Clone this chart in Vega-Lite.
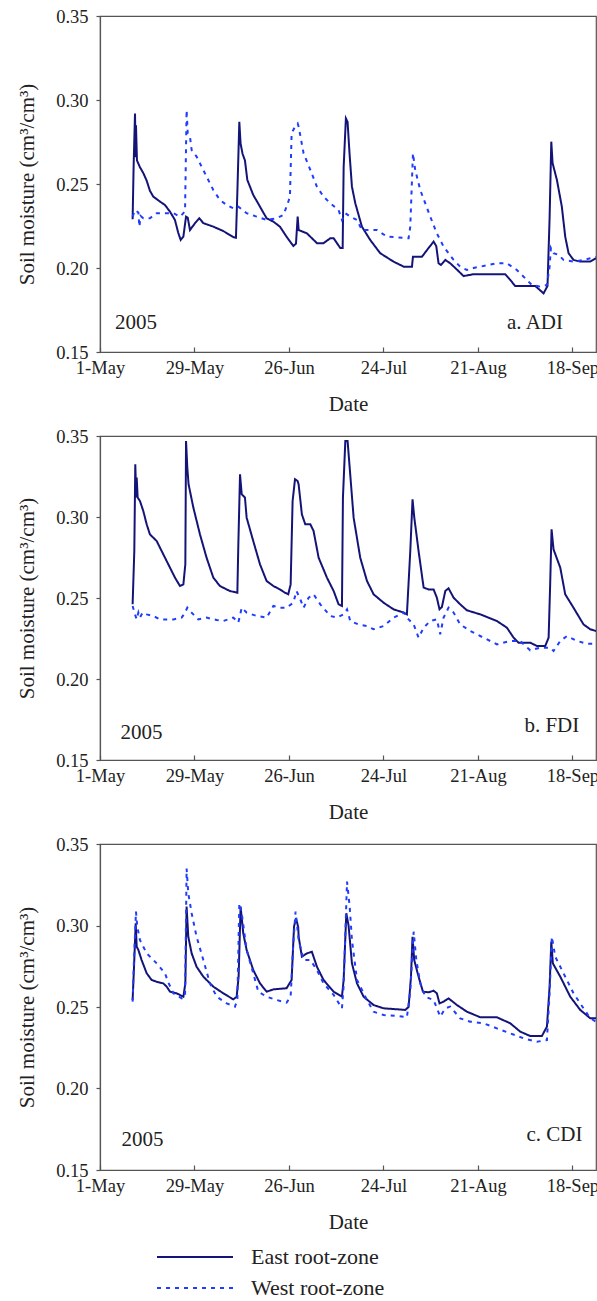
{
  "$schema": "https://vega.github.io/schema/vega-lite/v6.json",
  "padding": {"left": 16, "top": 6, "right": 0, "bottom": 0},
  "background": "white",
  "spacing": 10,
  "datasets": {
    "series": [
      {"panel":"a","zone":"East root-zone","date":"2005-05-10T16:00","moisture":0.229},
      {"panel":"a","zone":"East root-zone","date":"2005-05-10T23:00","moisture":0.260},
      {"panel":"a","zone":"East root-zone","date":"2005-05-11T09:00","moisture":0.292},
      {"panel":"a","zone":"East root-zone","date":"2005-05-11T14:00","moisture":0.266},
      {"panel":"a","zone":"East root-zone","date":"2005-05-11T16:00","moisture":0.285},
      {"panel":"a","zone":"East root-zone","date":"2005-05-11T23:00","moisture":0.264},
      {"panel":"a","zone":"East root-zone","date":"2005-05-12T20:00","moisture":0.260},
      {"panel":"a","zone":"East root-zone","date":"2005-05-13T20:00","moisture":0.2565},
      {"panel":"a","zone":"East root-zone","date":"2005-05-14T20:00","moisture":0.252},
      {"panel":"a","zone":"East root-zone","date":"2005-05-15T19:00","moisture":0.246},
      {"panel":"a","zone":"East root-zone","date":"2005-05-16T19:00","moisture":0.2425},
      {"panel":"a","zone":"East root-zone","date":"2005-05-18T19:00","moisture":0.2395},
      {"panel":"a","zone":"East root-zone","date":"2005-05-20T06:00","moisture":0.2375},
      {"panel":"a","zone":"East root-zone","date":"2005-05-21T18:00","moisture":0.2335},
      {"panel":"a","zone":"East root-zone","date":"2005-05-23T05:00","moisture":0.2286},
      {"panel":"a","zone":"East root-zone","date":"2005-05-24T05:00","moisture":0.2208},
      {"panel":"a","zone":"East root-zone","date":"2005-05-24T22:00","moisture":0.2167},
      {"panel":"a","zone":"East root-zone","date":"2005-05-25T17:00","moisture":0.2187},
      {"panel":"a","zone":"East root-zone","date":"2005-05-26T12:00","moisture":0.2306},
      {"panel":"a","zone":"East root-zone","date":"2005-05-27T00:00","moisture":0.230},
      {"panel":"a","zone":"East root-zone","date":"2005-05-27T16:00","moisture":0.2226},
      {"panel":"a","zone":"East root-zone","date":"2005-05-29T04:00","moisture":0.2267},
      {"panel":"a","zone":"East root-zone","date":"2005-05-30T10:00","moisture":0.2296},
      {"panel":"a","zone":"East root-zone","date":"2005-05-31T15:00","moisture":0.2267},
      {"panel":"a","zone":"East root-zone","date":"2005-06-03T14:00","moisture":0.2246},
      {"panel":"a","zone":"East root-zone","date":"2005-06-06T13:00","moisture":0.222},
      {"panel":"a","zone":"East root-zone","date":"2005-06-09T12:00","moisture":0.2184},
      {"panel":"a","zone":"East root-zone","date":"2005-06-10T07:00","moisture":0.218},
      {"panel":"a","zone":"East root-zone","date":"2005-06-10T17:00","moisture":0.245},
      {"panel":"a","zone":"East root-zone","date":"2005-06-11T07:00","moisture":0.287},
      {"panel":"a","zone":"East root-zone","date":"2005-06-11T16:00","moisture":0.274},
      {"panel":"a","zone":"East root-zone","date":"2005-06-12T06:00","moisture":0.268},
      {"panel":"a","zone":"East root-zone","date":"2005-06-12T23:00","moisture":0.264},
      {"panel":"a","zone":"East root-zone","date":"2005-06-13T16:00","moisture":0.2524},
      {"panel":"a","zone":"East root-zone","date":"2005-06-15T10:00","moisture":0.2435},
      {"panel":"a","zone":"East root-zone","date":"2005-06-17T10:00","moisture":0.2365},
      {"panel":"a","zone":"East root-zone","date":"2005-06-19T09:00","moisture":0.2296},
      {"panel":"a","zone":"East root-zone","date":"2005-06-21T09:00","moisture":0.2276},
      {"panel":"a","zone":"East root-zone","date":"2005-06-23T08:00","moisture":0.2246},
      {"panel":"a","zone":"East root-zone","date":"2005-06-25T07:00","moisture":0.2186},
      {"panel":"a","zone":"East root-zone","date":"2005-06-27T07:00","moisture":0.2131},
      {"panel":"a","zone":"East root-zone","date":"2005-06-28T02:00","moisture":0.2145},
      {"panel":"a","zone":"East root-zone","date":"2005-06-28T14:00","moisture":0.2306},
      {"panel":"a","zone":"East root-zone","date":"2005-06-28T21:00","moisture":0.2226},
      {"panel":"a","zone":"East root-zone","date":"2005-07-01T08:00","moisture":0.2206},
      {"panel":"a","zone":"East root-zone","date":"2005-07-04T07:00","moisture":0.2148},
      {"panel":"a","zone":"East root-zone","date":"2005-07-06T06:00","moisture":0.2148},
      {"panel":"a","zone":"East root-zone","date":"2005-07-08T06:00","moisture":0.2177},
      {"panel":"a","zone":"East root-zone","date":"2005-07-09T06:00","moisture":0.2177},
      {"panel":"a","zone":"East root-zone","date":"2005-07-11T05:00","moisture":0.2119},
      {"panel":"a","zone":"East root-zone","date":"2005-07-11T22:00","moisture":0.2119},
      {"panel":"a","zone":"East root-zone","date":"2005-07-12T05:00","moisture":0.260},
      {"panel":"a","zone":"East root-zone","date":"2005-07-12T21:00","moisture":0.289},
      {"panel":"a","zone":"East root-zone","date":"2005-07-13T09:00","moisture":0.287},
      {"panel":"a","zone":"East root-zone","date":"2005-07-13T23:00","moisture":0.268},
      {"panel":"a","zone":"East root-zone","date":"2005-07-14T16:00","moisture":0.2484},
      {"panel":"a","zone":"East root-zone","date":"2005-07-15T16:00","moisture":0.2385},
      {"panel":"a","zone":"East root-zone","date":"2005-07-17T15:00","moisture":0.2246},
      {"panel":"a","zone":"East root-zone","date":"2005-07-20T02:00","moisture":0.2167},
      {"panel":"a","zone":"East root-zone","date":"2005-07-23T01:00","moisture":0.2088},
      {"panel":"a","zone":"East root-zone","date":"2005-07-27T00:00","moisture":0.2038},
      {"panel":"a","zone":"East root-zone","date":"2005-07-30T00:00","moisture":0.2008},
      {"panel":"a","zone":"East root-zone","date":"2005-08-01T11:00","moisture":0.2008},
      {"panel":"a","zone":"East root-zone","date":"2005-08-01T18:00","moisture":0.2067},
      {"panel":"a","zone":"East root-zone","date":"2005-08-04T10:00","moisture":0.2067},
      {"panel":"a","zone":"East root-zone","date":"2005-08-06T09:00","moisture":0.2119},
      {"panel":"a","zone":"East root-zone","date":"2005-08-07T21:00","moisture":0.2157},
      {"panel":"a","zone":"East root-zone","date":"2005-08-08T16:00","moisture":0.213},
      {"panel":"a","zone":"East root-zone","date":"2005-08-09T08:00","moisture":0.2028},
      {"panel":"a","zone":"East root-zone","date":"2005-08-10T01:00","moisture":0.2018},
      {"panel":"a","zone":"East root-zone","date":"2005-08-11T08:00","moisture":0.2048},
      {"panel":"a","zone":"East root-zone","date":"2005-08-12T19:00","moisture":0.2028},
      {"panel":"a","zone":"East root-zone","date":"2005-08-14T07:00","moisture":0.200},
      {"panel":"a","zone":"East root-zone","date":"2005-08-16T18:00","moisture":0.1952},
      {"panel":"a","zone":"East root-zone","date":"2005-08-19T17:00","moisture":0.1963},
      {"panel":"a","zone":"East root-zone","date":"2005-08-29T02:00","moisture":0.1963},
      {"panel":"a","zone":"East root-zone","date":"2005-08-30T14:00","moisture":0.1929},
      {"panel":"a","zone":"East root-zone","date":"2005-09-01T01:00","moisture":0.1893},
      {"panel":"a","zone":"East root-zone","date":"2005-09-07T00:00","moisture":0.1893},
      {"panel":"a","zone":"East root-zone","date":"2005-09-09T11:00","moisture":0.1849},
      {"panel":"a","zone":"East root-zone","date":"2005-09-10T15:00","moisture":0.1893},
      {"panel":"a","zone":"East root-zone","date":"2005-09-11T06:00","moisture":0.230},
      {"panel":"a","zone":"East root-zone","date":"2005-09-11T18:00","moisture":0.2752},
      {"panel":"a","zone":"East root-zone","date":"2005-09-12T03:00","moisture":0.2625},
      {"panel":"a","zone":"East root-zone","date":"2005-09-13T10:00","moisture":0.2524},
      {"panel":"a","zone":"East root-zone","date":"2005-09-14T21:00","moisture":0.2365},
      {"panel":"a","zone":"East root-zone","date":"2005-09-15T21:00","moisture":0.2187},
      {"panel":"a","zone":"East root-zone","date":"2005-09-16T21:00","moisture":0.2088},
      {"panel":"a","zone":"East root-zone","date":"2005-09-18T08:00","moisture":0.2048},
      {"panel":"a","zone":"East root-zone","date":"2005-09-20T08:00","moisture":0.2038},
      {"panel":"a","zone":"East root-zone","date":"2005-09-23T07:00","moisture":0.2038},
      {"panel":"a","zone":"East root-zone","date":"2005-09-25T00:00","moisture":0.2058},

      {"panel":"a","zone":"West root-zone","date":"2005-05-10T16:00","moisture":0.2306},
      {"panel":"a","zone":"West root-zone","date":"2005-05-11T09:00","moisture":0.2345},
      {"panel":"a","zone":"West root-zone","date":"2005-05-12T09:00","moisture":0.233},
      {"panel":"a","zone":"West root-zone","date":"2005-05-12T16:00","moisture":0.2246},
      {"panel":"a","zone":"West root-zone","date":"2005-05-13T01:00","moisture":0.231},
      {"panel":"a","zone":"West root-zone","date":"2005-05-13T20:00","moisture":0.2296},
      {"panel":"a","zone":"West root-zone","date":"2005-05-15T19:00","moisture":0.2296},
      {"panel":"a","zone":"West root-zone","date":"2005-05-17T19:00","moisture":0.2326},
      {"panel":"a","zone":"West root-zone","date":"2005-05-22T18:00","moisture":0.2326},
      {"panel":"a","zone":"West root-zone","date":"2005-05-24T17:00","moisture":0.2306},
      {"panel":"a","zone":"West root-zone","date":"2005-05-25T17:00","moisture":0.2326},
      {"panel":"a","zone":"West root-zone","date":"2005-05-26T05:00","moisture":0.2345},
      {"panel":"a","zone":"West root-zone","date":"2005-05-26T16:00","moisture":0.294},
      {"panel":"a","zone":"West root-zone","date":"2005-05-27T00:00","moisture":0.2802},
      {"panel":"a","zone":"West root-zone","date":"2005-05-27T16:00","moisture":0.278},
      {"panel":"a","zone":"West root-zone","date":"2005-05-28T04:00","moisture":0.2702},
      {"panel":"a","zone":"West root-zone","date":"2005-05-29T15:00","moisture":0.2663},
      {"panel":"a","zone":"West root-zone","date":"2005-05-30T15:00","moisture":0.2623},
      {"panel":"a","zone":"West root-zone","date":"2005-06-01T14:00","moisture":0.2544},
      {"panel":"a","zone":"West root-zone","date":"2005-06-03T14:00","moisture":0.2464},
      {"panel":"a","zone":"West root-zone","date":"2005-06-05T13:00","moisture":0.2405},
      {"panel":"a","zone":"West root-zone","date":"2005-06-07T13:00","moisture":0.2375},
      {"panel":"a","zone":"West root-zone","date":"2005-06-09T12:00","moisture":0.2355},
      {"panel":"a","zone":"West root-zone","date":"2005-06-11T00:00","moisture":0.2365},
      {"panel":"a","zone":"West root-zone","date":"2005-06-13T11:00","moisture":0.2326},
      {"panel":"a","zone":"West root-zone","date":"2005-06-16T10:00","moisture":0.2306},
      {"panel":"a","zone":"West root-zone","date":"2005-06-19T09:00","moisture":0.2286},
      {"panel":"a","zone":"West root-zone","date":"2005-06-22T08:00","moisture":0.2296},
      {"panel":"a","zone":"West root-zone","date":"2005-06-24T08:00","moisture":0.2316},
      {"panel":"a","zone":"West root-zone","date":"2005-06-25T12:00","moisture":0.2375},
      {"panel":"a","zone":"West root-zone","date":"2005-06-26T07:00","moisture":0.2425},
      {"panel":"a","zone":"West root-zone","date":"2005-06-26T19:00","moisture":0.2802},
      {"panel":"a","zone":"West root-zone","date":"2005-06-27T19:00","moisture":0.2841},
      {"panel":"a","zone":"West root-zone","date":"2005-06-28T14:00","moisture":0.286},
      {"panel":"a","zone":"West root-zone","date":"2005-06-28T21:00","moisture":0.2841},
      {"panel":"a","zone":"West root-zone","date":"2005-06-30T08:00","moisture":0.2683},
      {"panel":"a","zone":"West root-zone","date":"2005-07-02T08:00","moisture":0.2584},
      {"panel":"a","zone":"West root-zone","date":"2005-07-04T07:00","moisture":0.2484},
      {"panel":"a","zone":"West root-zone","date":"2005-07-06T06:00","moisture":0.2425},
      {"panel":"a","zone":"West root-zone","date":"2005-07-08T06:00","moisture":0.2385},
      {"panel":"a","zone":"West root-zone","date":"2005-07-10T17:00","moisture":0.2345},
      {"panel":"a","zone":"West root-zone","date":"2005-07-11T17:00","moisture":0.2286},
      {"panel":"a","zone":"West root-zone","date":"2005-07-12T17:00","moisture":0.2326},
      {"panel":"a","zone":"West root-zone","date":"2005-07-14T04:00","moisture":0.2306},
      {"panel":"a","zone":"West root-zone","date":"2005-07-16T04:00","moisture":0.2286},
      {"panel":"a","zone":"West root-zone","date":"2005-07-17T15:00","moisture":0.2226},
      {"panel":"a","zone":"West root-zone","date":"2005-07-22T02:00","moisture":0.2226},
      {"panel":"a","zone":"West root-zone","date":"2005-07-25T01:00","moisture":0.2187},
      {"panel":"a","zone":"West root-zone","date":"2005-07-31T11:00","moisture":0.2177},
      {"panel":"a","zone":"West root-zone","date":"2005-07-31T23:00","moisture":0.2246},
      {"panel":"a","zone":"West root-zone","date":"2005-08-01T18:00","moisture":0.2683},
      {"panel":"a","zone":"West root-zone","date":"2005-08-02T10:00","moisture":0.2584},
      {"panel":"a","zone":"West root-zone","date":"2005-08-03T22:00","moisture":0.2464},
      {"panel":"a","zone":"West root-zone","date":"2005-08-06T21:00","moisture":0.2306},
      {"panel":"a","zone":"West root-zone","date":"2005-08-08T20:00","moisture":0.2206},
      {"panel":"a","zone":"West root-zone","date":"2005-08-10T20:00","moisture":0.2127},
      {"panel":"a","zone":"West root-zone","date":"2005-08-13T19:00","moisture":0.2048},
      {"panel":"a","zone":"West root-zone","date":"2005-08-15T18:00","moisture":0.2008},
      {"panel":"a","zone":"West root-zone","date":"2005-08-17T18:00","moisture":0.1988},
      {"panel":"a","zone":"West root-zone","date":"2005-08-19T17:00","moisture":0.200},
      {"panel":"a","zone":"West root-zone","date":"2005-08-21T17:00","moisture":0.2008},
      {"panel":"a","zone":"West root-zone","date":"2005-08-26T15:00","moisture":0.2028},
      {"panel":"a","zone":"West root-zone","date":"2005-08-29T14:00","moisture":0.2028},
      {"panel":"a","zone":"West root-zone","date":"2005-09-01T13:00","moisture":0.1988},
      {"panel":"a","zone":"West root-zone","date":"2005-09-04T12:00","moisture":0.1929},
      {"panel":"a","zone":"West root-zone","date":"2005-09-06T00:00","moisture":0.1899},
      {"panel":"a","zone":"West root-zone","date":"2005-09-08T11:00","moisture":0.1889},
      {"panel":"a","zone":"West root-zone","date":"2005-09-10T11:00","moisture":0.1899},
      {"panel":"a","zone":"West root-zone","date":"2005-09-11T06:00","moisture":0.2008},
      {"panel":"a","zone":"West root-zone","date":"2005-09-11T15:00","moisture":0.2119},
      {"panel":"a","zone":"West root-zone","date":"2005-09-12T10:00","moisture":0.2088},
      {"panel":"a","zone":"West root-zone","date":"2005-09-13T22:00","moisture":0.2078},
      {"panel":"a","zone":"West root-zone","date":"2005-09-15T09:00","moisture":0.2048},
      {"panel":"a","zone":"West root-zone","date":"2005-09-18T08:00","moisture":0.2038},
      {"panel":"a","zone":"West root-zone","date":"2005-09-21T07:00","moisture":0.2048},
      {"panel":"a","zone":"West root-zone","date":"2005-09-23T07:00","moisture":0.2058},
      {"panel":"a","zone":"West root-zone","date":"2005-09-25T00:00","moisture":0.2065},

      {"panel":"b","zone":"East root-zone","date":"2005-05-10T16:00","moisture":0.2461},
      {"panel":"b","zone":"East root-zone","date":"2005-05-11T04:00","moisture":0.279},
      {"panel":"b","zone":"East root-zone","date":"2005-05-11T11:00","moisture":0.3325},
      {"panel":"b","zone":"East root-zone","date":"2005-05-11T18:00","moisture":0.312},
      {"panel":"b","zone":"East root-zone","date":"2005-05-11T21:00","moisture":0.3243},
      {"panel":"b","zone":"East root-zone","date":"2005-05-12T04:00","moisture":0.312},
      {"panel":"b","zone":"East root-zone","date":"2005-05-12T20:00","moisture":0.3099},
      {"panel":"b","zone":"East root-zone","date":"2005-05-13T20:00","moisture":0.3037},
      {"panel":"b","zone":"East root-zone","date":"2005-05-14T20:00","moisture":0.2955},
      {"panel":"b","zone":"East root-zone","date":"2005-05-15T19:00","moisture":0.2893},
      {"panel":"b","zone":"East root-zone","date":"2005-05-17T19:00","moisture":0.2852},
      {"panel":"b","zone":"East root-zone","date":"2005-05-19T18:00","moisture":0.277},
      {"panel":"b","zone":"East root-zone","date":"2005-05-21T18:00","moisture":0.2687},
      {"panel":"b","zone":"East root-zone","date":"2005-05-23T05:00","moisture":0.2626},
      {"panel":"b","zone":"East root-zone","date":"2005-05-24T17:00","moisture":0.2574},
      {"panel":"b","zone":"East root-zone","date":"2005-05-25T17:00","moisture":0.2584},
      {"panel":"b","zone":"East root-zone","date":"2005-05-26T07:00","moisture":0.2708},
      {"panel":"b","zone":"East root-zone","date":"2005-05-26T12:00","moisture":0.3469},
      {"panel":"b","zone":"East root-zone","date":"2005-05-26T21:00","moisture":0.3305},
      {"panel":"b","zone":"East root-zone","date":"2005-05-27T06:00","moisture":0.3202},
      {"panel":"b","zone":"East root-zone","date":"2005-05-28T16:00","moisture":0.3058},
      {"panel":"b","zone":"East root-zone","date":"2005-05-30T15:00","moisture":0.2893},
      {"panel":"b","zone":"East root-zone","date":"2005-06-01T14:00","moisture":0.2749},
      {"panel":"b","zone":"East root-zone","date":"2005-06-03T14:00","moisture":0.2626},
      {"panel":"b","zone":"East root-zone","date":"2005-06-05T13:00","moisture":0.2574},
      {"panel":"b","zone":"East root-zone","date":"2005-06-08T12:00","moisture":0.2543},
      {"panel":"b","zone":"East root-zone","date":"2005-06-10T17:00","moisture":0.2533},
      {"panel":"b","zone":"East root-zone","date":"2005-06-11T00:00","moisture":0.2831},
      {"panel":"b","zone":"East root-zone","date":"2005-06-11T12:00","moisture":0.3263},
      {"panel":"b","zone":"East root-zone","date":"2005-06-12T00:00","moisture":0.314},
      {"panel":"b","zone":"East root-zone","date":"2005-06-12T23:00","moisture":0.312},
      {"panel":"b","zone":"East root-zone","date":"2005-06-13T11:00","moisture":0.2996},
      {"panel":"b","zone":"East root-zone","date":"2005-06-15T10:00","moisture":0.2852},
      {"panel":"b","zone":"East root-zone","date":"2005-06-17T10:00","moisture":0.2708},
      {"panel":"b","zone":"East root-zone","date":"2005-06-19T09:00","moisture":0.2605},
      {"panel":"b","zone":"East root-zone","date":"2005-06-21T09:00","moisture":0.2574},
      {"panel":"b","zone":"East root-zone","date":"2005-06-23T08:00","moisture":0.2553},
      {"panel":"b","zone":"East root-zone","date":"2005-06-24T19:00","moisture":0.2533},
      {"panel":"b","zone":"East root-zone","date":"2005-06-25T19:00","moisture":0.2523},
      {"panel":"b","zone":"East root-zone","date":"2005-06-26T12:00","moisture":0.2584},
      {"panel":"b","zone":"East root-zone","date":"2005-06-27T02:00","moisture":0.3099},
      {"panel":"b","zone":"East root-zone","date":"2005-06-27T19:00","moisture":0.3233},
      {"panel":"b","zone":"East root-zone","date":"2005-06-28T14:00","moisture":0.3222},
      {"panel":"b","zone":"East root-zone","date":"2005-06-28T21:00","moisture":0.320},
      {"panel":"b","zone":"East root-zone","date":"2005-06-29T20:00","moisture":0.3016},
      {"panel":"b","zone":"East root-zone","date":"2005-06-30T20:00","moisture":0.2955},
      {"panel":"b","zone":"East root-zone","date":"2005-07-02T08:00","moisture":0.2955},
      {"panel":"b","zone":"East root-zone","date":"2005-07-03T07:00","moisture":0.2914},
      {"panel":"b","zone":"East root-zone","date":"2005-07-04T19:00","moisture":0.2749},
      {"panel":"b","zone":"East root-zone","date":"2005-07-07T06:00","moisture":0.2626},
      {"panel":"b","zone":"East root-zone","date":"2005-07-09T06:00","moisture":0.2543},
      {"panel":"b","zone":"East root-zone","date":"2005-07-10T17:00","moisture":0.2461},
      {"panel":"b","zone":"East root-zone","date":"2005-07-11T17:00","moisture":0.2451},
      {"panel":"b","zone":"East root-zone","date":"2005-07-12T00:00","moisture":0.312},
      {"panel":"b","zone":"East root-zone","date":"2005-07-12T17:00","moisture":0.3469},
      {"panel":"b","zone":"East root-zone","date":"2005-07-13T09:00","moisture":0.3469},
      {"panel":"b","zone":"East root-zone","date":"2005-07-14T00:00","moisture":0.3305},
      {"panel":"b","zone":"East root-zone","date":"2005-07-15T04:00","moisture":0.2996},
      {"panel":"b","zone":"East root-zone","date":"2005-07-17T03:00","moisture":0.2749},
      {"panel":"b","zone":"East root-zone","date":"2005-07-19T03:00","moisture":0.2605},
      {"panel":"b","zone":"East root-zone","date":"2005-07-21T02:00","moisture":0.2523},
      {"panel":"b","zone":"East root-zone","date":"2005-07-24T01:00","moisture":0.2471},
      {"panel":"b","zone":"East root-zone","date":"2005-07-27T00:00","moisture":0.243},
      {"panel":"b","zone":"East root-zone","date":"2005-07-30T00:00","moisture":0.241},
      {"panel":"b","zone":"East root-zone","date":"2005-07-30T23:00","moisture":0.2399},
      {"panel":"b","zone":"East root-zone","date":"2005-07-31T23:00","moisture":0.279},
      {"panel":"b","zone":"East root-zone","date":"2005-08-01T15:00","moisture":0.3109},
      {"panel":"b","zone":"East root-zone","date":"2005-08-02T03:00","moisture":0.300},
      {"panel":"b","zone":"East root-zone","date":"2005-08-03T10:00","moisture":0.279},
      {"panel":"b","zone":"East root-zone","date":"2005-08-04T22:00","moisture":0.2564},
      {"panel":"b","zone":"East root-zone","date":"2005-08-06T09:00","moisture":0.2553},
      {"panel":"b","zone":"East root-zone","date":"2005-08-07T21:00","moisture":0.2553},
      {"panel":"b","zone":"East root-zone","date":"2005-08-08T20:00","moisture":0.2502},
      {"panel":"b","zone":"East root-zone","date":"2005-08-09T15:00","moisture":0.243},
      {"panel":"b","zone":"East root-zone","date":"2005-08-10T08:00","moisture":0.2445},
      {"panel":"b","zone":"East root-zone","date":"2005-08-11T08:00","moisture":0.2543},
      {"panel":"b","zone":"East root-zone","date":"2005-08-12T07:00","moisture":0.256},
      {"panel":"b","zone":"East root-zone","date":"2005-08-13T19:00","moisture":0.2502},
      {"panel":"b","zone":"East root-zone","date":"2005-08-15T18:00","moisture":0.2461},
      {"panel":"b","zone":"East root-zone","date":"2005-08-17T18:00","moisture":0.2424},
      {"panel":"b","zone":"East root-zone","date":"2005-08-21T17:00","moisture":0.2399},
      {"panel":"b","zone":"East root-zone","date":"2005-08-26T15:00","moisture":0.2358},
      {"panel":"b","zone":"East root-zone","date":"2005-08-29T14:00","moisture":0.2317},
      {"panel":"b","zone":"East root-zone","date":"2005-08-31T14:00","moisture":0.2255},
      {"panel":"b","zone":"East root-zone","date":"2005-09-02T01:00","moisture":0.2224},
      {"panel":"b","zone":"East root-zone","date":"2005-09-05T12:00","moisture":0.2224},
      {"panel":"b","zone":"East root-zone","date":"2005-09-07T12:00","moisture":0.2204},
      {"panel":"b","zone":"East root-zone","date":"2005-09-09T23:00","moisture":0.2204},
      {"panel":"b","zone":"East root-zone","date":"2005-09-10T23:00","moisture":0.2255},
      {"panel":"b","zone":"East root-zone","date":"2005-09-11T10:00","moisture":0.2584},
      {"panel":"b","zone":"East root-zone","date":"2005-09-11T20:00","moisture":0.2924},
      {"panel":"b","zone":"East root-zone","date":"2005-09-12T10:00","moisture":0.280},
      {"panel":"b","zone":"East root-zone","date":"2005-09-14T10:00","moisture":0.2687},
      {"panel":"b","zone":"East root-zone","date":"2005-09-15T21:00","moisture":0.2523},
      {"panel":"b","zone":"East root-zone","date":"2005-09-18T08:00","moisture":0.244},
      {"panel":"b","zone":"East root-zone","date":"2005-09-21T07:00","moisture":0.2337},
      {"panel":"b","zone":"East root-zone","date":"2005-09-23T07:00","moisture":0.2307},
      {"panel":"b","zone":"East root-zone","date":"2005-09-25T00:00","moisture":0.2296},

      {"panel":"b","zone":"West root-zone","date":"2005-05-10T16:00","moisture":0.2451},
      {"panel":"b","zone":"West root-zone","date":"2005-05-11T09:00","moisture":0.2399},
      {"panel":"b","zone":"West root-zone","date":"2005-05-11T21:00","moisture":0.2368},
      {"panel":"b","zone":"West root-zone","date":"2005-05-12T09:00","moisture":0.241},
      {"panel":"b","zone":"West root-zone","date":"2005-05-12T20:00","moisture":0.2379},
      {"panel":"b","zone":"West root-zone","date":"2005-05-13T15:00","moisture":0.241},
      {"panel":"b","zone":"West root-zone","date":"2005-05-14T20:00","moisture":0.2399},
      {"panel":"b","zone":"West root-zone","date":"2005-05-16T19:00","moisture":0.2389},
      {"panel":"b","zone":"West root-zone","date":"2005-05-18T19:00","moisture":0.2368},
      {"panel":"b","zone":"West root-zone","date":"2005-05-22T18:00","moisture":0.2368},
      {"panel":"b","zone":"West root-zone","date":"2005-05-25T05:00","moisture":0.2379},
      {"panel":"b","zone":"West root-zone","date":"2005-05-26T05:00","moisture":0.241},
      {"panel":"b","zone":"West root-zone","date":"2005-05-26T21:00","moisture":0.244},
      {"panel":"b","zone":"West root-zone","date":"2005-05-27T16:00","moisture":0.242},
      {"panel":"b","zone":"West root-zone","date":"2005-05-28T16:00","moisture":0.2399},
      {"panel":"b","zone":"West root-zone","date":"2005-05-30T03:00","moisture":0.2368},
      {"panel":"b","zone":"West root-zone","date":"2005-06-01T14:00","moisture":0.2379},
      {"panel":"b","zone":"West root-zone","date":"2005-06-04T14:00","moisture":0.2364},
      {"panel":"b","zone":"West root-zone","date":"2005-06-06T13:00","moisture":0.2358},
      {"panel":"b","zone":"West root-zone","date":"2005-06-09T12:00","moisture":0.2379},
      {"panel":"b","zone":"West root-zone","date":"2005-06-11T00:00","moisture":0.2348},
      {"panel":"b","zone":"West root-zone","date":"2005-06-12T00:00","moisture":0.244},
      {"panel":"b","zone":"West root-zone","date":"2005-06-13T11:00","moisture":0.241},
      {"panel":"b","zone":"West root-zone","date":"2005-06-16T10:00","moisture":0.2389},
      {"panel":"b","zone":"West root-zone","date":"2005-06-19T09:00","moisture":0.2379},
      {"panel":"b","zone":"West root-zone","date":"2005-06-21T09:00","moisture":0.2451},
      {"panel":"b","zone":"West root-zone","date":"2005-06-23T08:00","moisture":0.244},
      {"panel":"b","zone":"West root-zone","date":"2005-06-25T07:00","moisture":0.244},
      {"panel":"b","zone":"West root-zone","date":"2005-06-27T07:00","moisture":0.2471},
      {"panel":"b","zone":"West root-zone","date":"2005-06-28T06:00","moisture":0.2543},
      {"panel":"b","zone":"West root-zone","date":"2005-06-29T09:00","moisture":0.2492},
      {"panel":"b","zone":"West root-zone","date":"2005-06-30T08:00","moisture":0.244},
      {"panel":"b","zone":"West root-zone","date":"2005-07-01T20:00","moisture":0.2502},
      {"panel":"b","zone":"West root-zone","date":"2005-07-03T07:00","moisture":0.2523},
      {"panel":"b","zone":"West root-zone","date":"2005-07-05T07:00","moisture":0.2461},
      {"panel":"b","zone":"West root-zone","date":"2005-07-08T06:00","moisture":0.2389},
      {"panel":"b","zone":"West root-zone","date":"2005-07-10T05:00","moisture":0.2379},
      {"panel":"b","zone":"West root-zone","date":"2005-07-12T05:00","moisture":0.2399},
      {"panel":"b","zone":"West root-zone","date":"2005-07-13T05:00","moisture":0.243},
      {"panel":"b","zone":"West root-zone","date":"2005-07-14T04:00","moisture":0.2358},
      {"panel":"b","zone":"West root-zone","date":"2005-07-16T15:00","moisture":0.2337},
      {"panel":"b","zone":"West root-zone","date":"2005-07-19T03:00","moisture":0.2327},
      {"panel":"b","zone":"West root-zone","date":"2005-07-21T02:00","moisture":0.2307},
      {"panel":"b","zone":"West root-zone","date":"2005-07-24T01:00","moisture":0.2327},
      {"panel":"b","zone":"West root-zone","date":"2005-07-27T00:00","moisture":0.2379},
      {"panel":"b","zone":"West root-zone","date":"2005-07-30T00:00","moisture":0.241},
      {"panel":"b","zone":"West root-zone","date":"2005-07-31T11:00","moisture":0.2368},
      {"panel":"b","zone":"West root-zone","date":"2005-08-01T23:00","moisture":0.2337},
      {"panel":"b","zone":"West root-zone","date":"2005-08-03T10:00","moisture":0.2255},
      {"panel":"b","zone":"West root-zone","date":"2005-08-04T22:00","moisture":0.2317},
      {"panel":"b","zone":"West root-zone","date":"2005-08-06T21:00","moisture":0.2358},
      {"panel":"b","zone":"West root-zone","date":"2005-08-08T20:00","moisture":0.2368},
      {"panel":"b","zone":"West root-zone","date":"2005-08-09T20:00","moisture":0.2276},
      {"panel":"b","zone":"West root-zone","date":"2005-08-10T20:00","moisture":0.2379},
      {"panel":"b","zone":"West root-zone","date":"2005-08-12T07:00","moisture":0.244},
      {"panel":"b","zone":"West root-zone","date":"2005-08-13T19:00","moisture":0.241},
      {"panel":"b","zone":"West root-zone","date":"2005-08-15T18:00","moisture":0.2337},
      {"panel":"b","zone":"West root-zone","date":"2005-08-18T18:00","moisture":0.2296},
      {"panel":"b","zone":"West root-zone","date":"2005-08-22T16:00","moisture":0.2255},
      {"panel":"b","zone":"West root-zone","date":"2005-08-26T15:00","moisture":0.2214},
      {"panel":"b","zone":"West root-zone","date":"2005-08-30T14:00","moisture":0.2235},
      {"panel":"b","zone":"West root-zone","date":"2005-09-02T13:00","moisture":0.2235},
      {"panel":"b","zone":"West root-zone","date":"2005-09-05T12:00","moisture":0.2177},
      {"panel":"b","zone":"West root-zone","date":"2005-09-08T11:00","moisture":0.2193},
      {"panel":"b","zone":"West root-zone","date":"2005-09-11T10:00","moisture":0.2193},
      {"panel":"b","zone":"West root-zone","date":"2005-09-12T10:00","moisture":0.2173},
      {"panel":"b","zone":"West root-zone","date":"2005-09-14T10:00","moisture":0.2235},
      {"panel":"b","zone":"West root-zone","date":"2005-09-16T09:00","moisture":0.2265},
      {"panel":"b","zone":"West root-zone","date":"2005-09-19T08:00","moisture":0.2235},
      {"panel":"b","zone":"West root-zone","date":"2005-09-22T07:00","moisture":0.2218},
      {"panel":"b","zone":"West root-zone","date":"2005-09-25T00:00","moisture":0.2218},

      {"panel":"c","zone":"East root-zone","date":"2005-05-10T16:00","moisture":0.2543},
      {"panel":"c","zone":"East root-zone","date":"2005-05-11T02:00","moisture":0.2747},
      {"panel":"c","zone":"East root-zone","date":"2005-05-11T14:00","moisture":0.3013},
      {"panel":"c","zone":"East root-zone","date":"2005-05-11T21:00","moisture":0.287},
      {"panel":"c","zone":"East root-zone","date":"2005-05-12T09:00","moisture":0.285},
      {"panel":"c","zone":"East root-zone","date":"2005-05-13T08:00","moisture":0.2788},
      {"panel":"c","zone":"East root-zone","date":"2005-05-14T20:00","moisture":0.2707},
      {"panel":"c","zone":"East root-zone","date":"2005-05-16T07:00","moisture":0.2666},
      {"panel":"c","zone":"East root-zone","date":"2005-05-17T19:00","moisture":0.2655},
      {"panel":"c","zone":"East root-zone","date":"2005-05-19T18:00","moisture":0.2645},
      {"panel":"c","zone":"East root-zone","date":"2005-05-20T18:00","moisture":0.2625},
      {"panel":"c","zone":"East root-zone","date":"2005-05-21T18:00","moisture":0.2594},
      {"panel":"c","zone":"East root-zone","date":"2005-05-23T17:00","moisture":0.2584},
      {"panel":"c","zone":"East root-zone","date":"2005-05-25T17:00","moisture":0.2563},
      {"panel":"c","zone":"East root-zone","date":"2005-05-26T07:00","moisture":0.2645},
      {"panel":"c","zone":"East root-zone","date":"2005-05-26T16:00","moisture":0.3116},
      {"panel":"c","zone":"East root-zone","date":"2005-05-27T04:00","moisture":0.2931},
      {"panel":"c","zone":"East root-zone","date":"2005-05-28T04:00","moisture":0.2829},
      {"panel":"c","zone":"East root-zone","date":"2005-05-29T15:00","moisture":0.2747},
      {"panel":"c","zone":"East root-zone","date":"2005-05-31T15:00","moisture":0.2686},
      {"panel":"c","zone":"East root-zone","date":"2005-06-03T14:00","moisture":0.2625},
      {"panel":"c","zone":"East root-zone","date":"2005-06-06T13:00","moisture":0.2584},
      {"panel":"c","zone":"East root-zone","date":"2005-06-09T12:00","moisture":0.2547},
      {"panel":"c","zone":"East root-zone","date":"2005-06-10T12:00","moisture":0.2563},
      {"panel":"c","zone":"East root-zone","date":"2005-06-11T02:00","moisture":0.2686},
      {"panel":"c","zone":"East root-zone","date":"2005-06-11T16:00","moisture":0.3116},
      {"panel":"c","zone":"East root-zone","date":"2005-06-12T11:00","moisture":0.2952},
      {"panel":"c","zone":"East root-zone","date":"2005-06-13T11:00","moisture":0.285},
      {"panel":"c","zone":"East root-zone","date":"2005-06-15T10:00","moisture":0.2727},
      {"panel":"c","zone":"East root-zone","date":"2005-06-17T10:00","moisture":0.2645},
      {"panel":"c","zone":"East root-zone","date":"2005-06-19T09:00","moisture":0.2594},
      {"panel":"c","zone":"East root-zone","date":"2005-06-21T09:00","moisture":0.2608},
      {"panel":"c","zone":"East root-zone","date":"2005-06-25T07:00","moisture":0.2615},
      {"panel":"c","zone":"East root-zone","date":"2005-06-26T19:00","moisture":0.2666},
      {"panel":"c","zone":"East root-zone","date":"2005-06-27T12:00","moisture":0.2993},
      {"panel":"c","zone":"East root-zone","date":"2005-06-28T02:00","moisture":0.3044},
      {"panel":"c","zone":"East root-zone","date":"2005-06-28T18:00","moisture":0.2990},
      {"panel":"c","zone":"East root-zone","date":"2005-06-28T21:00","moisture":0.2931},
      {"panel":"c","zone":"East root-zone","date":"2005-06-29T20:00","moisture":0.2809},
      {"panel":"c","zone":"East root-zone","date":"2005-07-01T08:00","moisture":0.2829},
      {"panel":"c","zone":"East root-zone","date":"2005-07-02T19:00","moisture":0.2839},
      {"panel":"c","zone":"East root-zone","date":"2005-07-04T07:00","moisture":0.2747},
      {"panel":"c","zone":"East root-zone","date":"2005-07-06T06:00","moisture":0.2666},
      {"panel":"c","zone":"East root-zone","date":"2005-07-09T06:00","moisture":0.2594},
      {"panel":"c","zone":"East root-zone","date":"2005-07-11T17:00","moisture":0.2563},
      {"panel":"c","zone":"East root-zone","date":"2005-07-12T05:00","moisture":0.2666},
      {"panel":"c","zone":"East root-zone","date":"2005-07-13T00:00","moisture":0.3075},
      {"panel":"c","zone":"East root-zone","date":"2005-07-13T16:00","moisture":0.300},
      {"panel":"c","zone":"East root-zone","date":"2005-07-14T16:00","moisture":0.2768},
      {"panel":"c","zone":"East root-zone","date":"2005-07-16T04:00","moisture":0.2645},
      {"panel":"c","zone":"East root-zone","date":"2005-07-18T03:00","moisture":0.2563},
      {"panel":"c","zone":"East root-zone","date":"2005-07-21T02:00","moisture":0.2512},
      {"panel":"c","zone":"East root-zone","date":"2005-07-24T01:00","moisture":0.2492},
      {"panel":"c","zone":"East root-zone","date":"2005-07-28T00:00","moisture":0.2486},
      {"panel":"c","zone":"East root-zone","date":"2005-07-30T11:00","moisture":0.2482},
      {"panel":"c","zone":"East root-zone","date":"2005-07-31T11:00","moisture":0.250},
      {"panel":"c","zone":"East root-zone","date":"2005-08-01T04:00","moisture":0.2686},
      {"panel":"c","zone":"East root-zone","date":"2005-08-01T15:00","moisture":0.2931},
      {"panel":"c","zone":"East root-zone","date":"2005-08-02T03:00","moisture":0.2788},
      {"panel":"c","zone":"East root-zone","date":"2005-08-03T10:00","moisture":0.2686},
      {"panel":"c","zone":"East root-zone","date":"2005-08-04T17:00","moisture":0.2594},
      {"panel":"c","zone":"East root-zone","date":"2005-08-06T09:00","moisture":0.259},
      {"panel":"c","zone":"East root-zone","date":"2005-08-07T21:00","moisture":0.260},
      {"panel":"c","zone":"East root-zone","date":"2005-08-08T20:00","moisture":0.2584},
      {"panel":"c","zone":"East root-zone","date":"2005-08-09T15:00","moisture":0.2522},
      {"panel":"c","zone":"East root-zone","date":"2005-08-10T20:00","moisture":0.2533},
      {"panel":"c","zone":"East root-zone","date":"2005-08-12T07:00","moisture":0.2553},
      {"panel":"c","zone":"East root-zone","date":"2005-08-14T19:00","moisture":0.2512},
      {"panel":"c","zone":"East root-zone","date":"2005-08-17T18:00","moisture":0.2471},
      {"panel":"c","zone":"East root-zone","date":"2005-08-21T17:00","moisture":0.2437},
      {"panel":"c","zone":"East root-zone","date":"2005-08-26T15:00","moisture":0.2437},
      {"panel":"c","zone":"East root-zone","date":"2005-08-30T14:00","moisture":0.240},
      {"panel":"c","zone":"East root-zone","date":"2005-09-02T13:00","moisture":0.2349},
      {"panel":"c","zone":"East root-zone","date":"2005-09-05T12:00","moisture":0.2322},
      {"panel":"c","zone":"East root-zone","date":"2005-09-08T23:00","moisture":0.2322},
      {"panel":"c","zone":"East root-zone","date":"2005-09-10T11:00","moisture":0.2379},
      {"panel":"c","zone":"East root-zone","date":"2005-09-11T06:00","moisture":0.2625},
      {"panel":"c","zone":"East root-zone","date":"2005-09-11T18:00","moisture":0.290},
      {"panel":"c","zone":"East root-zone","date":"2005-09-12T05:00","moisture":0.2768},
      {"panel":"c","zone":"East root-zone","date":"2005-09-14T10:00","moisture":0.2686},
      {"panel":"c","zone":"East root-zone","date":"2005-09-17T09:00","moisture":0.2563},
      {"panel":"c","zone":"East root-zone","date":"2005-09-20T08:00","moisture":0.2482},
      {"panel":"c","zone":"East root-zone","date":"2005-09-23T07:00","moisture":0.2431},
      {"panel":"c","zone":"East root-zone","date":"2005-09-25T00:00","moisture":0.2431},

      {"panel":"c","zone":"West root-zone","date":"2005-05-10T16:00","moisture":0.2533},
      {"panel":"c","zone":"West root-zone","date":"2005-05-11T02:00","moisture":0.280},
      {"panel":"c","zone":"West root-zone","date":"2005-05-11T16:00","moisture":0.3085},
      {"panel":"c","zone":"West root-zone","date":"2005-05-12T01:00","moisture":0.2993},
      {"panel":"c","zone":"West root-zone","date":"2005-05-12T20:00","moisture":0.2911},
      {"panel":"c","zone":"West root-zone","date":"2005-05-14T20:00","moisture":0.2829},
      {"panel":"c","zone":"West root-zone","date":"2005-05-17T19:00","moisture":0.2768},
      {"panel":"c","zone":"West root-zone","date":"2005-05-20T06:00","moisture":0.2707},
      {"panel":"c","zone":"West root-zone","date":"2005-05-21T06:00","moisture":0.265},
      {"panel":"c","zone":"West root-zone","date":"2005-05-22T18:00","moisture":0.2584},
      {"panel":"c","zone":"West root-zone","date":"2005-05-25T05:00","moisture":0.2553},
      {"panel":"c","zone":"West root-zone","date":"2005-05-26T05:00","moisture":0.2563},
      {"panel":"c","zone":"West root-zone","date":"2005-05-26T16:00","moisture":0.335},
      {"panel":"c","zone":"West root-zone","date":"2005-05-27T04:00","moisture":0.3197},
      {"panel":"c","zone":"West root-zone","date":"2005-05-28T04:00","moisture":0.3075},
      {"panel":"c","zone":"West root-zone","date":"2005-05-29T15:00","moisture":0.2931},
      {"panel":"c","zone":"West root-zone","date":"2005-05-31T15:00","moisture":0.2788},
      {"panel":"c","zone":"West root-zone","date":"2005-06-02T14:00","moisture":0.2645},
      {"panel":"c","zone":"West root-zone","date":"2005-06-04T14:00","moisture":0.2563},
      {"panel":"c","zone":"West root-zone","date":"2005-06-07T13:00","moisture":0.2522},
      {"panel":"c","zone":"West root-zone","date":"2005-06-10T00:00","moisture":0.2502},
      {"panel":"c","zone":"West root-zone","date":"2005-06-10T17:00","moisture":0.2543},
      {"panel":"c","zone":"West root-zone","date":"2005-06-11T07:00","moisture":0.3136},
      {"panel":"c","zone":"West root-zone","date":"2005-06-12T00:00","moisture":0.3075},
      {"panel":"c","zone":"West root-zone","date":"2005-06-13T11:00","moisture":0.285},
      {"panel":"c","zone":"West root-zone","date":"2005-06-15T10:00","moisture":0.2707},
      {"panel":"c","zone":"West root-zone","date":"2005-06-16T22:00","moisture":0.2594},
      {"panel":"c","zone":"West root-zone","date":"2005-06-19T09:00","moisture":0.2563},
      {"panel":"c","zone":"West root-zone","date":"2005-06-22T08:00","moisture":0.2543},
      {"panel":"c","zone":"West root-zone","date":"2005-06-25T07:00","moisture":0.2527},
      {"panel":"c","zone":"West root-zone","date":"2005-06-26T12:00","moisture":0.2563},
      {"panel":"c","zone":"West root-zone","date":"2005-06-27T07:00","moisture":0.2891},
      {"panel":"c","zone":"West root-zone","date":"2005-06-27T23:00","moisture":0.3085},
      {"panel":"c","zone":"West root-zone","date":"2005-06-28T21:00","moisture":0.2911},
      {"panel":"c","zone":"West root-zone","date":"2005-06-30T08:00","moisture":0.2788},
      {"panel":"c","zone":"West root-zone","date":"2005-07-02T08:00","moisture":0.2788},
      {"panel":"c","zone":"West root-zone","date":"2005-07-04T07:00","moisture":0.2727},
      {"panel":"c","zone":"West root-zone","date":"2005-07-06T06:00","moisture":0.2645},
      {"panel":"c","zone":"West root-zone","date":"2005-07-09T06:00","moisture":0.2574},
      {"panel":"c","zone":"West root-zone","date":"2005-07-11T17:00","moisture":0.2492},
      {"panel":"c","zone":"West root-zone","date":"2005-07-12T05:00","moisture":0.263},
      {"panel":"c","zone":"West root-zone","date":"2005-07-13T05:00","moisture":0.3269},
      {"panel":"c","zone":"West root-zone","date":"2005-07-14T00:00","moisture":0.3116},
      {"panel":"c","zone":"West root-zone","date":"2005-07-14T16:00","moisture":0.2911},
      {"panel":"c","zone":"West root-zone","date":"2005-07-16T04:00","moisture":0.2666},
      {"panel":"c","zone":"West root-zone","date":"2005-07-19T03:00","moisture":0.2543},
      {"panel":"c","zone":"West root-zone","date":"2005-07-21T02:00","moisture":0.2471},
      {"panel":"c","zone":"West root-zone","date":"2005-07-24T01:00","moisture":0.2451},
      {"panel":"c","zone":"West root-zone","date":"2005-07-28T00:00","moisture":0.2445},
      {"panel":"c","zone":"West root-zone","date":"2005-07-30T23:00","moisture":0.2437},
      {"panel":"c","zone":"West root-zone","date":"2005-07-31T23:00","moisture":0.260},
      {"panel":"c","zone":"West root-zone","date":"2005-08-01T23:00","moisture":0.2962},
      {"panel":"c","zone":"West root-zone","date":"2005-08-02T18:00","moisture":0.2788},
      {"panel":"c","zone":"West root-zone","date":"2005-08-03T22:00","moisture":0.2645},
      {"panel":"c","zone":"West root-zone","date":"2005-08-05T10:00","moisture":0.2563},
      {"panel":"c","zone":"West root-zone","date":"2005-08-07T21:00","moisture":0.2543},
      {"panel":"c","zone":"West root-zone","date":"2005-08-09T20:00","moisture":0.2441},
      {"panel":"c","zone":"West root-zone","date":"2005-08-11T08:00","moisture":0.2492},
      {"panel":"c","zone":"West root-zone","date":"2005-08-12T19:00","moisture":0.2502},
      {"panel":"c","zone":"West root-zone","date":"2005-08-15T18:00","moisture":0.243},
      {"panel":"c","zone":"West root-zone","date":"2005-08-18T18:00","moisture":0.241},
      {"panel":"c","zone":"West root-zone","date":"2005-08-22T16:00","moisture":0.240},
      {"panel":"c","zone":"West root-zone","date":"2005-08-26T15:00","moisture":0.2369},
      {"panel":"c","zone":"West root-zone","date":"2005-08-30T14:00","moisture":0.2338},
      {"panel":"c","zone":"West root-zone","date":"2005-09-03T13:00","moisture":0.2308},
      {"panel":"c","zone":"West root-zone","date":"2005-09-07T12:00","moisture":0.2287},
      {"panel":"c","zone":"West root-zone","date":"2005-09-10T11:00","moisture":0.2297},
      {"panel":"c","zone":"West root-zone","date":"2005-09-11T06:00","moisture":0.2584},
      {"panel":"c","zone":"West root-zone","date":"2005-09-11T22:00","moisture":0.2931},
      {"panel":"c","zone":"West root-zone","date":"2005-09-12T22:00","moisture":0.2809},
      {"panel":"c","zone":"West root-zone","date":"2005-09-15T09:00","moisture":0.2707},
      {"panel":"c","zone":"West root-zone","date":"2005-09-18T08:00","moisture":0.2584},
      {"panel":"c","zone":"West root-zone","date":"2005-09-21T07:00","moisture":0.2492},
      {"panel":"c","zone":"West root-zone","date":"2005-09-23T07:00","moisture":0.2431},
      {"panel":"c","zone":"West root-zone","date":"2005-09-25T00:00","moisture":0.241}
    ],
    "notes": [
      {"panel":"a","date":"2005-05-11T16:00","moisture":0.1673,"label":"2005"},
      {"panel":"a","date":"2005-09-06T22:00","moisture":0.1673,"label":"a. ADI"},
      {"panel":"b","date":"2005-05-13T07:00","moisture":0.1669,"label":"2005"},
      {"panel":"b","date":"2005-09-11T22:00","moisture":0.1712,"label":"b. FDI"},
      {"panel":"c","date":"2005-05-13T14:00","moisture":0.1682,"label":"2005"},
      {"panel":"c","date":"2005-09-12T17:00","moisture":0.1715,"label":"c. CDI"}
    ]
  },
  "vconcat": [
    {
      "width": 496, "height": 336,
      "layer": [
        {
          "data": {"name": "series"},
          "transform": [{"filter": "datum.panel == 'a'"}],
          "mark": {"type": "line", "strokeWidth": 2, "clip": true},
          "encoding": {
            "x": {"field": "date", "type": "temporal", "title": "Date",
                  "scale": {"domain": [{"year": 2005, "month": 5, "date": 1}, {"year": 2005, "month": 9, "date": 25}]},
                  "axis": {"values": [{"year": 2005, "month": 5, "date": 1}, {"year": 2005, "month": 5, "date": 29}, {"year": 2005, "month": 6, "date": 26}, {"year": 2005, "month": 7, "date": 24}, {"year": 2005, "month": 8, "date": 21}, {"year": 2005, "month": 9, "date": 18}], "format": "%-d-%b", "labelFlush": false, "labelOverlap": false}},
            "y": {"field": "moisture", "type": "quantitative", "title": "Soil moisture (cm³/cm³)",
                  "scale": {"domain": [0.15, 0.35], "nice": false, "zero": false},
                  "axis": {"values": [0.15, 0.2, 0.25, 0.3, 0.35], "format": ".2f"}},
            "color": {"field": "zone", "type": "nominal", "scale": {"domain": ["East root-zone", "West root-zone"], "range": ["#141478", "#1f3cff"]},
                      "legend": {"orient": "none", "legendX": 79, "legendY": 1225, "title": null}},
            "strokeDash": {"field": "zone", "type": "nominal", "scale": {"domain": ["East root-zone", "West root-zone"], "range": [[1, 0], [4, 5]]},
                      "legend": {"orient": "none", "legendX": 79, "legendY": 1225, "title": null}}
          }
        },
        {
          "data": {"name": "notes"},
          "transform": [{"filter": "datum.panel == 'a'"}],
          "mark": {"type": "text", "font": "Liberation Serif", "fontSize": 21, "color": "#222", "baseline": "middle"},
          "encoding": {
            "x": {"field": "date", "type": "temporal"},
            "y": {"field": "moisture", "type": "quantitative"},
            "text": {"field": "label"}
          }
        }
      ]
    },
    {
      "width": 496, "height": 324,
      "layer": [
        {
          "data": {"name": "series"},
          "transform": [{"filter": "datum.panel == 'b'"}],
          "mark": {"type": "line", "strokeWidth": 2, "clip": true},
          "encoding": {
            "x": {"field": "date", "type": "temporal", "title": "Date",
                  "scale": {"domain": [{"year": 2005, "month": 5, "date": 1}, {"year": 2005, "month": 9, "date": 25}]},
                  "axis": {"values": [{"year": 2005, "month": 5, "date": 1}, {"year": 2005, "month": 5, "date": 29}, {"year": 2005, "month": 6, "date": 26}, {"year": 2005, "month": 7, "date": 24}, {"year": 2005, "month": 8, "date": 21}, {"year": 2005, "month": 9, "date": 18}], "format": "%-d-%b", "labelFlush": false, "labelOverlap": false}},
            "y": {"field": "moisture", "type": "quantitative", "title": "Soil moisture (cm³/cm³)",
                  "scale": {"domain": [0.15, 0.35], "nice": false, "zero": false},
                  "axis": {"values": [0.15, 0.2, 0.25, 0.3, 0.35], "format": ".2f"}},
            "color": {"field": "zone", "type": "nominal", "scale": {"domain": ["East root-zone", "West root-zone"], "range": ["#141478", "#1f3cff"]},
                      "legend": {"orient": "none", "legendX": 79, "legendY": 1225, "title": null}},
            "strokeDash": {"field": "zone", "type": "nominal", "scale": {"domain": ["East root-zone", "West root-zone"], "range": [[1, 0], [4, 5]]},
                      "legend": {"orient": "none", "legendX": 79, "legendY": 1225, "title": null}}
          }
        },
        {
          "data": {"name": "notes"},
          "transform": [{"filter": "datum.panel == 'b'"}],
          "mark": {"type": "text", "font": "Liberation Serif", "fontSize": 21, "color": "#222", "baseline": "middle"},
          "encoding": {
            "x": {"field": "date", "type": "temporal"},
            "y": {"field": "moisture", "type": "quantitative"},
            "text": {"field": "label"}
          }
        }
      ]
    },
    {
      "width": 496, "height": 326,
      "layer": [
        {
          "data": {"name": "series"},
          "transform": [{"filter": "datum.panel == 'c'"}],
          "mark": {"type": "line", "strokeWidth": 2, "clip": true},
          "encoding": {
            "x": {"field": "date", "type": "temporal", "title": "Date",
                  "scale": {"domain": [{"year": 2005, "month": 5, "date": 1}, {"year": 2005, "month": 9, "date": 25}]},
                  "axis": {"values": [{"year": 2005, "month": 5, "date": 1}, {"year": 2005, "month": 5, "date": 29}, {"year": 2005, "month": 6, "date": 26}, {"year": 2005, "month": 7, "date": 24}, {"year": 2005, "month": 8, "date": 21}, {"year": 2005, "month": 9, "date": 18}], "format": "%-d-%b", "labelFlush": false, "labelOverlap": false}},
            "y": {"field": "moisture", "type": "quantitative", "title": "Soil moisture (cm³/cm³)",
                  "scale": {"domain": [0.15, 0.35], "nice": false, "zero": false},
                  "axis": {"values": [0.15, 0.2, 0.25, 0.3, 0.35], "format": ".2f"}},
            "color": {"field": "zone", "type": "nominal", "scale": {"domain": ["East root-zone", "West root-zone"], "range": ["#141478", "#1f3cff"]},
                      "legend": {"orient": "none", "legendX": 79, "legendY": 1225, "title": null}},
            "strokeDash": {"field": "zone", "type": "nominal", "scale": {"domain": ["East root-zone", "West root-zone"], "range": [[1, 0], [4, 5]]},
                      "legend": {"orient": "none", "legendX": 79, "legendY": 1225, "title": null}}
          }
        },
        {
          "data": {"name": "notes"},
          "transform": [{"filter": "datum.panel == 'c'"}],
          "mark": {"type": "text", "font": "Liberation Serif", "fontSize": 21, "color": "#222", "baseline": "middle"},
          "encoding": {
            "x": {"field": "date", "type": "temporal"},
            "y": {"field": "moisture", "type": "quantitative"},
            "text": {"field": "label"}
          }
        }
      ]
    }
  ],
  "resolve": {"scale": {"color": "shared", "strokeDash": "shared"}},
  "config": {
    "font": "Liberation Serif",
    "view": {"stroke": "#555", "strokeWidth": 1.2},
    "axis": {
      "domainColor": "#555", "tickColor": "#555", "labelColor": "#222", "titleColor": "#222",
      "labelFont": "Liberation Serif", "titleFont": "Liberation Serif",
      "labelFontSize": 18.5, "titleFontSize": 21, "titleFontWeight": "normal", "grid": false,
      "domainWidth": 1.2, "tickWidth": 1.2
    },
    "axisX": {"tickSize": -5, "labelPadding": 11, "titlePadding": 17},
    "axisY": {"tickSize": 4, "labelPadding": 8, "titlePadding": 18},
    "legend": {
      "symbolType": "M-2.533,0H2.533", "symbolSize": 900, "symbolStrokeWidth": 2,
      "labelFont": "Liberation Serif", "labelFontSize": 22, "labelColor": "#222",
      "labelOffset": 40, "rowPadding": 4, "padding": 0
    }
  }
}
